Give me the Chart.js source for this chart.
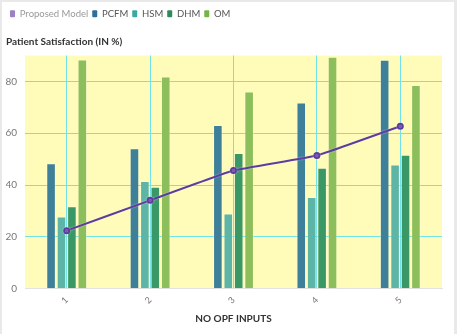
<!DOCTYPE html>
<html>
<head>
<meta charset="utf-8">
<script src="https://cdn.jsdelivr.net/npm/chart.js@4.4.1/dist/chart.umd.min.js"></script>
<style>
  html, body { margin: 0; padding: 0; background: #e9e9e9; width: 457px; height: 334px; overflow: hidden; }
  #card { position: absolute; left: 2px; top: 2px; width: 452px; height: 332px; background: #ffffff; }
  canvas { display: block; }
</style>
</head>
<body>
<div id="card"><canvas id="c" width="452" height="332"></canvas></div>
<script>
const categories = ["1", "2", "3", "4", "5"];
const proposedModel = [22.4, 34.1, 45.6, 51.4, 62.7];
const pcfm = [48.4, 54.2, 63.2, 71.9, 88.4];
const hsm = [27.9, 41.6, 29.0, 35.4, 47.9];
const dhm = [31.8, 39.3, 52.4, 46.7, 51.7];
const om = [88.5, 81.9, 76.1, 89.5, 78.6];
const yTicks = [0, 20, 40, 60, 80];

const FONT = "Lato, 'Noto Sans', sans-serif";
const legendColors = ["#9a80c4", "#2f6e98", "#3aa9a2", "#2e8a58", "#77b446"];
const legendText = ["#999999", "#555555", "#555555", "#555555", "#555555"];

const barStyle = (c) => ({ backgroundColor: c, borderColor: "rgba(255,255,255,0.35)", borderWidth: 1, borderSkipped: "bottom" });

new Chart(document.getElementById("c"), {
  type: "bar",
  data: {
    labels: categories,
    datasets: [
      { type: "line", label: "Proposed Model", data: proposedModel, borderColor: "#5c3c9c", backgroundColor: "#5c3c9c",
        borderWidth: 2, pointRadius: 2.5, pointHoverRadius: 3, tension: 0.1 },
      Object.assign({ label: "PCFM", data: pcfm }, barStyle("#3e7f9a")),
      Object.assign({ label: "HSM", data: hsm }, barStyle("#5db5a8")),
      Object.assign({ label: "DHM", data: dhm }, barStyle("#3a9866")),
      Object.assign({ label: "OM", data: om }, barStyle("#8cbe5b"))
    ]
  },
  options: {
    responsive: false,
    animation: false,
    datasets: { bar: { categoryPercentage: 0.5, barPercentage: 0.92 } },
    layout: { padding: { left: 4, right: 12, top: 3, bottom: 9 } },
    plugins: {
      legend: {
        position: "top", align: "start", weight: 3000,
        labels: {
          boxWidth: 5, boxHeight: 7, padding: 4, useBorderRadius: true, borderRadius: 1,
          font: { family: FONT, size: 9.5 },
          generateLabels: (chart) => chart.data.datasets.map((ds, i) => ({
            text: ds.label, fillStyle: legendColors[i], strokeStyle: legendColors[i], lineWidth: 0,
            fontColor: legendText[i], hidden: false, datasetIndex: i, borderRadius: 1
          }))
        }
      },
      title: {
        display: true, text: "Patient Satisfaction (IN %)", align: "start", color: "#333333",
        font: { family: FONT, size: 10, weight: "bold" }, padding: { top: 7, bottom: 8 }
      },
      tooltip: { enabled: false }
    },
    scales: {
      x: {
        grid: { color: "#6fe3e6", lineWidth: 1, offset: false, drawTicks: false },
        border: { color: "#e2e2e2", width: 1 },
        ticks: { color: "#777777", font: { family: FONT, size: 9 }, minRotation: 45, maxRotation: 45, padding: 6 },
        title: { display: true, text: "NO OPF INPUTS", color: "#333333", font: { family: FONT, size: 10, weight: "bold" }, padding: { top: 1, bottom: 0 } }
      },
      y: {
        min: 0, max: 90,
        afterBuildTicks: (scale) => { scale.ticks = yTicks.map(v => ({ value: v })); },
        afterFit: (scale) => { scale.width = 19; },
        grid: { color: "#6fe3e6", lineWidth: 1, drawTicks: false },
        border: { display: false },
        ticks: { color: "#777777", font: { family: FONT, size: 10 }, padding: 8 }
      }
    }
  },
  plugins: [{
    id: "bg",
    beforeDraw(chart) {
      const { ctx, chartArea: a } = chart;
      ctx.save();
      ctx.fillStyle = "#fffbb8";
      ctx.fillRect(a.left, a.top, a.right - a.left, a.bottom - a.top);
      ctx.restore();
    },
    beforeDatasetDraw(chart, args) {
      if (args.index === 0) {
        chart.ctx.save();
        chart.ctx.shadowColor = "rgba(255,255,255,0.6)";
        chart.ctx.shadowBlur = 1.5;
      }
    },
    afterDatasetDraw(chart, args) {
      if (args.index === 0) chart.ctx.restore();
    }
  }]
});
</script>
</body>
</html>
